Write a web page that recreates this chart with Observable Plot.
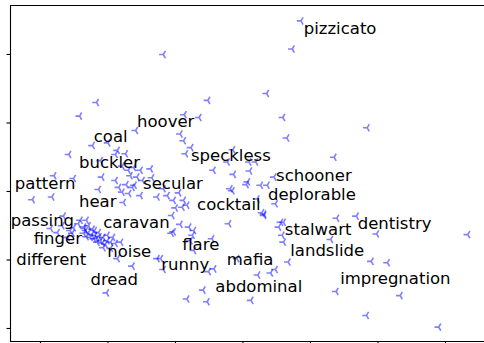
<!DOCTYPE html>
<html>
<head>
<meta charset="utf-8">
<script src="https://cdn.jsdelivr.net/npm/d3@7"></script>
<script src="https://cdn.jsdelivr.net/npm/@observablehq/plot@0.6"></script>
<style>
  html, body { margin: 0; padding: 0; background: #fff; }
  svg { display: block; }
</style>
</head>
<body>
<div id="chart"></div>
<script>
// 2-D embedding of word vectors: every word is one point
const pointX = [
  8.6, 7.3, -11.8, 3.5, -21.7, -5.2, -24.2, -8.7, -6.5, 5.9,
  18.4, -15.9, -9.3, -8.8, 6.5, -22.3, -20.0, -7.7, -8.5, -1.5,
  -18.6, -18.9, -17.4, -25.8, 13.5, -21.1, -2.3, 0.9, 1.9, -17.9,
  -16.2, -15.2, -13.7, -4.4, 1.0, -1.4, -16.7, -15.7, -14.9, -13.5,
  -28.0, -25.1, -20.9, -18.9, 4.6, 0.7, 0.5, 2.6, 3.6, -17.3,
  -18.4, -16.4, -1.9, -1.6, -21.4, -17.9, -16.9, -31.2, -28.3, -15.2,
  -12.7, -11.8, -11.2, -10.3, -9.5, -8.8, -9.0, -8.3, -10.0, -10.5,
  -9.3, -8.0, -7.3, -10.3, 2.1, 4.8, 3.1, 2.8, -2.1, 5.6,
  6.0, 5.3, 5.8, -4.6, 13.9, 16.8, 19.8, 33.3, 13.0, 19.0,
  21.4, 13.8, 23.3, 18.3, 29.0, -10.6, -7.5, -7.8, 6.0, -7.3,
  -12.2, -11.8, -4.3, -5.1, -0.9, 6.7, 2.2, 4.1, 4.8, -5.9,
  -8.3, -5.3, 1.2, -16.4, -18.6, -20.2, -12.7, -17.7, -24.1, -23.6,
  -28.5, -26.8, -25.6, -20.1, -26.6, -25.1, -24.4, -23.3, -22.9, -23.6,
  -22.6, -22.1, -21.9, -21.6, -21.1, -20.7, -20.1, -19.6, -19.3, -18.9,
  -18.1, -20.7, -19.6, -25.3, -26.0, -23.2, -22.3, -21.4, -20.4, -27.5,
  3.1, -23.5, -22.9, -22.4, -22.0, -21.7, -21.3, -23.2, -20.8, -17.0,
  -16.1
];
const pointY = [
  24.9, 20.8, 20.0, 14.3, 13.0, 13.3, 11.0, 11.2, 10.8, 10.8,
  9.3, 8.9, 8.4, 7.4, 7.8, 6.7, 7.1, 6.4, 5.5, 6.1,
  6.0, 5.4, 5.5, 5.4, 5.0, 4.5, 4.3, 4.3, 4.3, 3.7,
  3.5, 3.1, 3.3, 3.1, 3.0, 2.5, 2.3, 2.1, 1.6, 2.0,
  2.3, 1.9, 2.1, 1.6, 2.1, 1.4, 1.0, 0.9, 0.9, 1.0,
  0.6, 0.6, 0.4, 0.1, 0.3, -0.1, -0.3, -1.2, -0.8, -0.6,
  -0.8, 0.4, -0.6, -1.3, -0.2, -1.3, -2.3, -2.0, -2.4, -3.5,
  -4.8, -5.2, -5.7, -5.9, -1.1, -1.8, -3.5, -3.1, -4.7, -4.5,
  -4.5, -5.2, -6.4, -6.9, -3.9, -3.6, -6.2, -6.3, -7.0, -10.2,
  -10.4, -14.6, -15.2, -18.1, -19.8, -6.1, -6.4, -7.2, -7.4, -8.6,
  -9.8, -11.4, -11.3, -11.7, -9.8, -10.3, -12.2, -11.9, -11.4, -14.4,
  -15.7, -16.1, -15.9, -10.9, -9.8, -14.8, -9.8, -1.6, -4.2, -5.2,
  -5.4, -5.0, -5.7, -6.4, -3.6, -5.3, -4.7, -5.7, -5.0, -6.1,
  -6.7, -6.9, -6.4, -7.4, -7.2, -6.7, -7.2, -7.4, -6.7, -7.6,
  -7.4, -8.2, -8.3, -6.1, -6.7, -4.2, -5.5, -6.0, -7.7, -6.0,
  -3.3, -5.4, -6.0, -6.3, -5.7, -6.9, -6.6, -6.6, -7.5, 3.1,
  0.9
];

// annotated words
const words = [
  "pizzicato", "hoover", "coal", "buckler", "speckless", "schooner", "secular",
  "pattern", "deplorable", "cocktail", "hear", "dentistry", "stalwart", "passing",
  "caravan", "finger", "landslide", "flare", "noise", "different", "mafia",
  "runny", "dread", "abdominal", "impregnation"
];
const wordX = [
  9.0, -15.7, -22.1, -24.3, -7.7, 4.9, -14.8,
  -33.8, 3.7, -6.8, -24.3, 17.0, 6.2, -34.4,
  -20.7, -31.0, 7.0, -9.0, -20.1, -33.6, -2.4,
  -12.1, -22.6, -4.1, 14.4
];
const wordY = [
  23.7, 10.2, 8.0, 4.2, 5.2, 2.3, 1.2,
  1.1, -0.4, -2.0, -1.5, -4.7, -5.6, -4.2,
  -4.6, -6.9, -8.7, -7.7, -8.8, -10.0, -10.0,
  -10.7, -12.9, -13.9, -12.8
];

const xTicks = [-30, -20, -10, 0, 10, 20, 30];
const yTicks = [-20, -10, 0, 10, 20];

const points = pointX.map((x, i) => ({x, y: pointY[i]}));
const labels = words.map((w, i) => ({word: w, x: wordX[i], y: wordY[i]}));

const xDomain = [-34.44, 35.78];
const yDomain = [-21.9, 27.15];

// "tri_left" marker: three strokes from the centre, one pointing left
const triLeft = {
  draw(context, size) {
    const r = Math.sqrt(size / Math.PI);
    context.moveTo(0, 0); context.lineTo(-r, 0);
    context.moveTo(0, 0); context.lineTo(r * 0.5, -r * 0.866);
    context.moveTo(0, 0); context.lineTo(r * 0.5, r * 0.866);
  }
};

const chart = Plot.plot({
  width: 484,
  height: 343,
  marginLeft: 10,
  marginRight: 0,
  marginTop: 5,
  marginBottom: 2,
  style: {fontFamily: "DejaVu Sans", background: "white", overflow: "hidden"},
  x: {domain: xDomain, axis: null},
  y: {domain: yDomain, axis: null},
  marks: [
    Plot.axisY(yTicks, {anchor: "left", tickSize: 3.5, tickFormat: () => "", label: null, stroke: "black", strokeWidth: 1.1}),
    Plot.axisX(xTicks, {anchor: "bottom", tickSize: 3.5, tickFormat: () => "", label: null, stroke: "black", strokeWidth: 1.1}),
    Plot.dot(points, {
      x: "x", y: "y", symbol: triLeft, r: 4.2,
      stroke: "blue", strokeOpacity: 0.5, fill: "none", strokeWidth: 1.6
    }),
    Plot.text(labels, {
      x: "x", y: "y", text: "word",
      textAnchor: "start", lineAnchor: "middle",
      fontSize: 16.5, fill: "black"
    }),
    Plot.ruleX([xDomain[0]], {stroke: "black", strokeWidth: 1.1}),
    Plot.ruleY([yDomain[0], yDomain[1]], {stroke: "black", strokeWidth: 1.1})
  ]
});

document.getElementById("chart").appendChild(chart);
</script>
</body>
</html>
